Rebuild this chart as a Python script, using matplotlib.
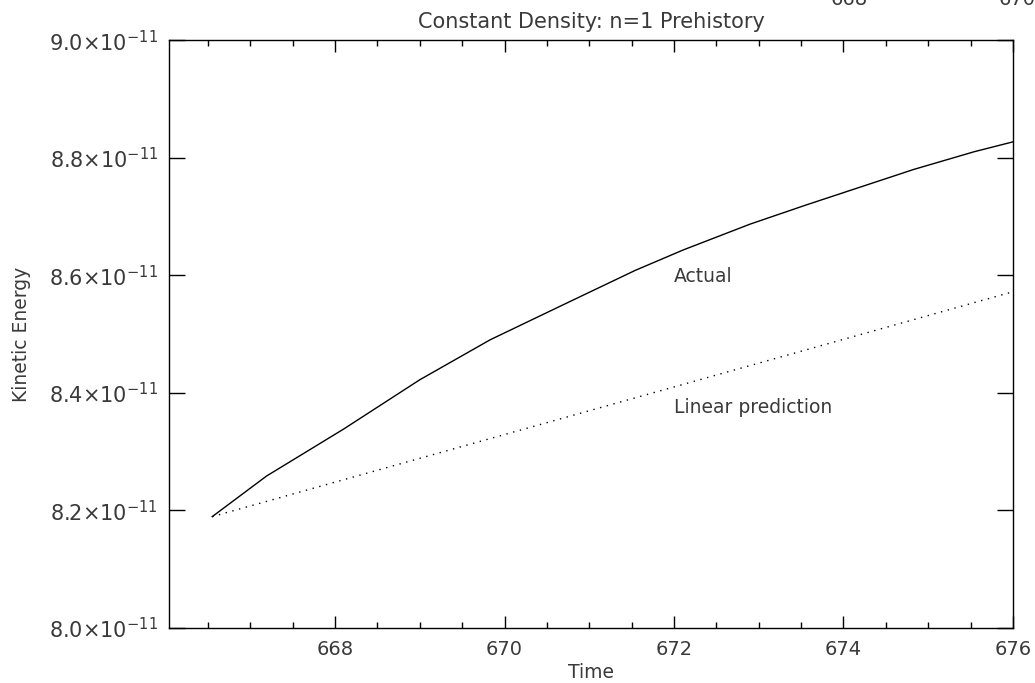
import numpy as np
import matplotlib
import matplotlib.pyplot as plt
from matplotlib.ticker import MultipleLocator, FuncFormatter

matplotlib.use('Agg')

# Kinetic energy, in units of 1e-11
time_actual = [666.55, 667.19, 668.10, 669.00, 669.83, 670.77, 671.54,
               672.11, 672.90, 673.57, 674.83, 675.54, 676.03]
ke_actual = [8.189, 8.258, 8.338, 8.422, 8.490, 8.555, 8.608,
             8.643, 8.687, 8.720, 8.780, 8.810, 8.828]

time_linear = [666.55, 676.03]
ke_linear = [8.189, 8.573]

x_range = (666.04, 676.0)
y_range = (8.0, 9.0)
text_col = '#3a3a3a'

plt.rcParams['font.family'] = ['DejaVu Sans']
plt.rcParams['mathtext.fontset'] = 'dejavusans'

fig = plt.figure(figsize=(10.35, 6.83), dpi=100)
ax = fig.add_axes([0.1633, 0.081, 0.8154, 0.8602])

ax.plot(time_actual, ke_actual, color='black', lw=1.0)
ax.plot(time_linear, ke_linear, color='black', lw=1.0, linestyle=(0, (1, 4)))

ax.text(672.0, 8.598, 'Actual', fontsize=13.5, color=text_col, va='center')
ax.text(672.0, 8.374, 'Linear prediction', fontsize=13.5, color=text_col, va='center')

ax.set_xlim(*x_range)
ax.set_ylim(*y_range)

ax.xaxis.set_major_locator(MultipleLocator(2))
ax.xaxis.set_minor_locator(MultipleLocator(0.5))
ax.yaxis.set_major_locator(MultipleLocator(0.2))
ax.yaxis.set_major_formatter(FuncFormatter(lambda v, p: '%.1f×10$^{-11}$' % v))

ax.tick_params(axis='x', which='major', direction='in', length=8.5, top=True,
               labelsize=14, labelcolor=text_col, pad=9, width=1)
ax.tick_params(axis='x', which='minor', direction='in', length=4, top=True, width=1)
ax.tick_params(axis='y', which='major', direction='in', length=11.5, right=True,
               labelsize=15, labelcolor=text_col, pad=8, width=1)

for s in ax.spines.values():
    s.set_linewidth(1.0)

ax.set_title('Constant Density: n=1 Prehistory', fontsize=15, color=text_col, pad=9)
ax.set_xlabel('Time', fontsize=13.5, color=text_col, labelpad=3)
ax.set_ylabel('Kinetic Energy', fontsize=13.5, color=text_col)
ax.yaxis.set_label_coords(-0.163, 0.5)

# leftover labels of a panel above, clipped at the top edge as in the source
fig.text(849 / 1035, 1 - 5 / 683, '668', fontsize=14, color=text_col,
         ha='center', va='baseline')
fig.text(1017 / 1035, 1 - 5 / 683, '670', fontsize=14, color=text_col,
         ha='center', va='baseline')

plt.savefig('out.png', dpi=100)
